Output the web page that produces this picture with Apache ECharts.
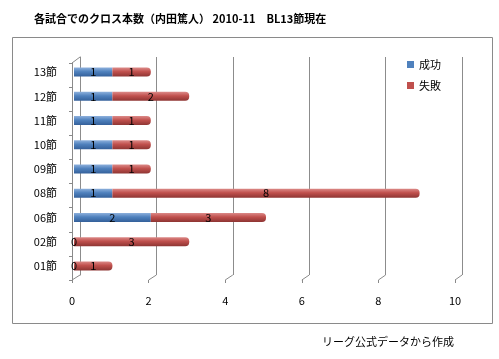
<!DOCTYPE html>
<html><head><meta charset="utf-8">
<script src="https://cdn.jsdelivr.net/npm/echarts@6/dist/echarts.min.js"></script>
<style>html,body{margin:0;padding:0;background:#fff}#c{width:499px;height:359px}</style>
</head><body><div id="c"></div>
<script>
const categories = ['01節','02節','06節','08節','09節','10節','11節','12節','13節'];
const success = [0,0,2,1,1,1,1,1,1];
const failure = [1,3,3,8,1,1,1,2,1];
const xTicks = [0,2,4,6,8,10];
const title = '各試合でのクロス本数（内田篤人） 2010-11　BL13節現在';
const footer = 'リーグ公式データから作成';

const F = '"Noto Sans CJK JP", sans-serif';
const chart = echarts.init(document.getElementById('c'));
function grad(a,b,c){return new echarts.graphic.LinearGradient(0,0,0,1,[{offset:0,color:a},{offset:0.45,color:b},{offset:1,color:c}]);}
const option = {
  animation:false,
  title:{text:title,left:29,top:8,textStyle:{fontFamily:F,fontSize:11,fontWeight:'bold',color:'#000'}},
  graphic:[
    {type:'rect',shape:{x:12.5,y:37.5,width:480,height:286},style:{fill:'none',stroke:'#8a8a8a',lineWidth:1}},
    {type:'text',left:322,top:336,style:{text:footer,font:'11px '+F,fill:'#000'}}
  ],
  legend:{orient:'vertical',left:402,top:54,itemWidth:7,itemHeight:7,itemGap:10,icon:'rect',
    textStyle:{fontFamily:F,fontSize:11,color:'#000'},
    data:[{name:'成功',itemStyle:{color:'#4F81BD'}},{name:'失敗',itemStyle:{color:'#C0504D'}}]},
  grid:[
    {left:72,top:63,width:383,bottom:79},
    {left:80,top:57,width:382,bottom:84},
    {left:74,top:60,width:384,bottom:81}
  ],
  xAxis:[
    {gridIndex:0,type:'value',min:0,max:10,interval:2,axisLine:{show:false},
      axisTick:{show:true,length:3,lineStyle:{color:'#8a8a8a'}},splitLine:{show:false},
      axisLabel:{margin:15,fontFamily:F,fontSize:11,color:'#000'}},
    {gridIndex:1,type:'value',min:0,max:10,interval:2,axisLine:{show:false},axisTick:{show:false},
      axisLabel:{show:false},splitLine:{show:true,lineStyle:{color:'#8c8c8c',width:1}}},
    {gridIndex:2,type:'value',min:0,max:10,interval:2,show:false}
  ],
  yAxis:[
    {gridIndex:0,type:'category',data:categories,axisLine:{show:true,lineStyle:{color:'#8a8a8a'}},
      axisTick:{show:true,length:3,lineStyle:{color:'#8a8a8a'}},axisLabel:{show:false}},
    {gridIndex:1,type:'category',data:categories,axisLine:{show:true,lineStyle:{color:'#8c8c8c'}},
      axisTick:{show:false},axisLabel:{show:false}},
    {gridIndex:2,type:'category',data:categories,axisLine:{show:false},axisTick:{show:false},
      axisLabel:{margin:17,fontFamily:F,fontSize:11,color:'#000'}}
  ],
  series:[
    {name:'成功',type:'bar',stack:'a',xAxisIndex:2,yAxisIndex:2,data:success,barWidth:9,
      itemStyle:{color:grad('#8db0dc','#4F81BD','#34609a')},
      label:{show:true,position:'inside',color:'#000',fontFamily:F,fontSize:11}},
    {name:'失敗',type:'bar',stack:'a',xAxisIndex:2,yAxisIndex:2,data:failure,barWidth:9,
      itemStyle:{color:grad('#dc8a88','#C0504D','#8e3533'),borderRadius:[0,4,4,0]},
      label:{show:true,position:'inside',color:'#000',fontFamily:F,fontSize:11}}
  ]
};
chart.setOption(option);
// 3D floor/wall connector lines
const extra = [];
xTicks.forEach(v=>{
  const f = chart.convertToPixel({xAxisIndex:0},v);
  const b = chart.convertToPixel({xAxisIndex:1},v);
  extra.push({type:'line',shape:{x1:f,y1:280,x2:b,y2:275},style:{stroke:'#8a8a8a',lineWidth:1}});
});
extra.push({type:'line',shape:{x1:72,y1:63,x2:80,y2:57},style:{stroke:'#8a8a8a',lineWidth:1}});
chart.setOption({graphic:option.graphic.concat(extra)});
</script></body></html>
